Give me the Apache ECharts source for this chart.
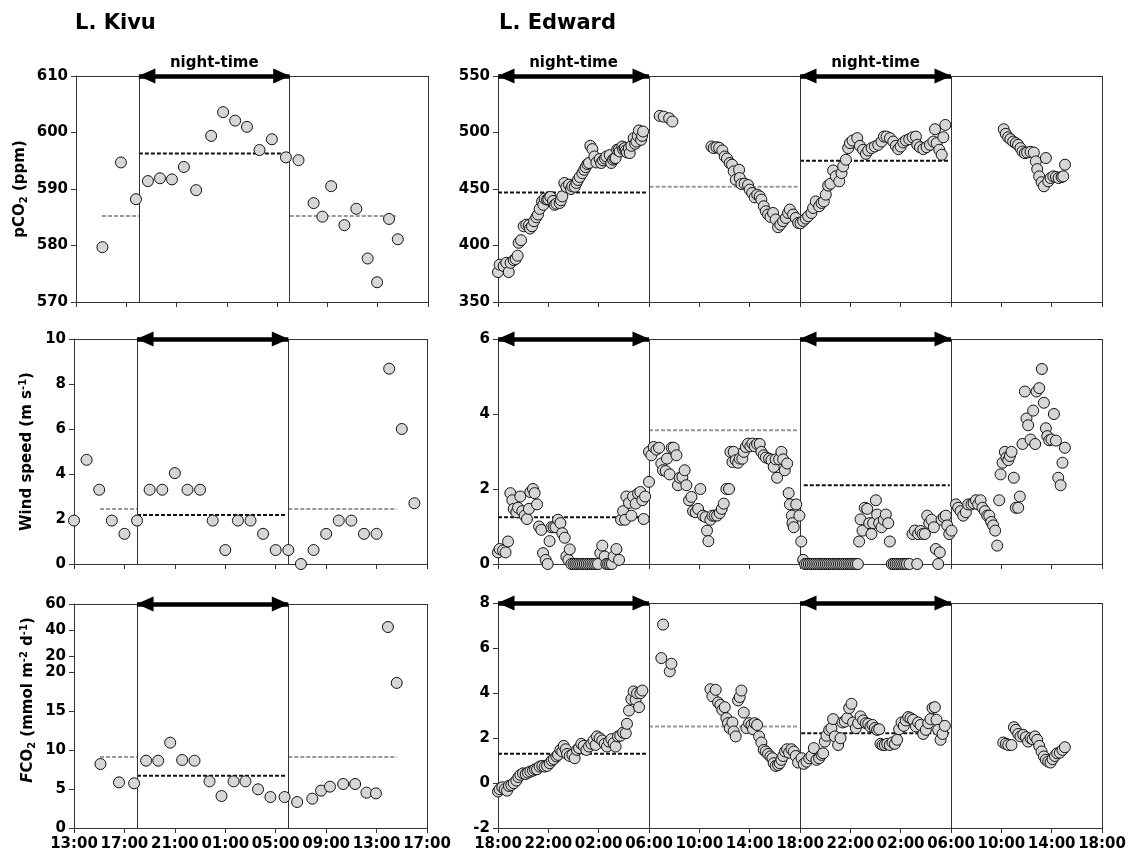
<!DOCTYPE html>
<html>
<head>
<meta charset="utf-8">
<script src="https://cdn.jsdelivr.net/npm/echarts@6.0.0/dist/echarts.min.js"></script>
<style>
html, body { margin: 0; padding: 0; background: #fff; }
#container { width: 1133px; height: 863px; }
</style>
</head>
<body>
<div id="container"></div>
<script>
var dom = document.getElementById("container");
var myChart = echarts.init(dom);
var FONT = 'DejaVu Sans';

// x = hours after first tick (Kivu starts 13:00, Edward starts 18:00)
var kivuStart = 13;
var edwardStart = 18;
var kivuNights = [[5, 17]];
var edwardNights = [[0, 12], [24, 36]];

// L. Kivu
var kivuHours = [2.1, 3.57, 4.77, 5.72, 6.68, 7.63, 8.58, 9.56, 10.75, 11.7, 12.66, 13.6, 14.6,
    15.58, 16.7, 17.7, 18.9, 19.6, 20.3, 21.35, 22.3, 23.2, 23.95, 24.9, 25.6];
var kivuPco2 = [579.7, 594.7, 588.2, 591.4, 591.9, 591.7, 593.9, 589.8, 599.4, 603.6, 602.1, 601.0, 596.9,
    598.8, 595.6, 595.1, 587.5, 585.1, 590.5, 583.6, 586.5, 577.7, 573.5, 584.7, 581.1];
var kivuFco2 = [8.2, 5.85, 5.73, 8.63, 8.63, 10.94, 8.72, 8.63, 5.98, 4.1, 5.98, 5.98, 4.96,
    3.97, 3.97, 3.33, 3.76, 4.79, 5.3, 5.64, 5.64, 4.53, 4.44, 42.3, 18.6];
var kivuWindHours = [0, 1, 2, 3, 4, 5, 6, 7, 8, 9, 10, 11, 12, 13, 14, 15, 16, 17, 18, 19, 20, 21, 22, 23, 24, 25, 26, 27];
var kivuWind = [1.93, 4.63, 3.3, 1.93, 1.34, 1.93, 3.3, 3.3, 4.04, 3.3, 3.3, 1.93, 0.62, 1.93,
    1.93, 1.34, 0.62, 0.62, 0, 0.62, 1.34, 1.93, 1.93, 1.34, 1.34, 8.68, 6.0, 2.7];

// mean lines: [from, to, value, period]
var kivuPco2Means = [[2.07, 5, 585.2, 'day'], [5, 16.9, 596.3, 'night'], [17, 25.6, 585.2, 'day']];
var kivuWindMeans = [[2.07, 5, 2.45, 'day'], [5, 16.9, 2.18, 'night'], [17, 25.6, 2.45, 'day']];
var kivuFco2Means = [[2.07, 5, 9.1, 'day'], [5, 16.9, 6.7, 'night'], [17, 25.6, 9.1, 'day']];

// L. Edward  [hour, value]
var edwardPco2 = [
    [0, 376.5], [0.13, 383], [0.45, 381.8], [0.66, 384.7], [0.85, 376.5], [1.0, 384.7], [1.25, 387], [1.4, 388],
    [1.56, 391], [1.64, 402.4], [1.83, 404.7], [2.04, 417], [2.25, 418.5], [2.46, 418], [2.55, 415], [2.7, 417],
    [2.86, 421.5], [3.05, 425], [3.18, 427.4], [3.31, 432.4], [3.5, 439], [3.6, 436], [3.71, 441.5], [3.9, 440.6],
    [4.0, 441], [4.16, 443], [4.37, 439.4], [4.5, 436], [4.64, 437], [4.9, 437.6], [5.0, 440], [5.11, 443.5],
    [5.27, 455.3], [5.43, 451.8], [5.64, 453.8], [5.8, 450], [5.9, 452.4], [6.1, 452], [6.23, 455.3], [6.35, 458],
    [6.49, 460.6], [6.7, 464], [6.85, 467], [6.97, 469.4], [7.1, 472], [7.23, 473], [7.34, 488.2], [7.5, 485.3],
    [7.66, 478.8], [7.82, 473.5], [8.08, 476.5], [8.2, 473], [8.35, 475.3], [8.5, 477], [8.61, 478.8], [8.88, 480],
    [9.0, 473], [9.14, 475.9], [9.25, 477], [9.35, 477.4], [9.46, 484.7], [9.6, 485], [9.67, 483.2], [9.88, 487.6],
    [9.95, 485], [10.07, 486.2], [10.15, 484], [10.25, 482.4], [10.4, 486], [10.47, 481.8], [10.6, 488.2],
    [10.78, 495], [10.9, 490], [11.0, 492], [11.1, 497], [11.2, 501.8], [11.37, 493.5], [11.45, 497], [11.53, 500.9],
    [12.85, 514.7], [13.17, 514], [13.6, 512.6], [13.86, 509.7],
    [16.96, 487.6], [17.14, 486.2], [17.36, 487], [17.57, 486.5], [17.83, 484.1], [18.02, 478.8], [18.2, 477],
    [18.42, 473], [18.6, 471.5], [18.73, 465.6], [18.89, 458.2], [19.16, 467], [19.21, 459.7], [19.34, 454.4],
    [19.6, 454.7], [19.87, 453.5], [20.0, 449.4], [20.2, 446.5], [20.4, 442.6], [20.6, 445], [20.8, 443.5],
    [20.93, 440.6], [21.12, 434.7], [21.28, 430.3], [21.46, 427.4], [21.65, 425.3], [21.86, 428.8], [22.07, 423],
    [22.26, 416.2], [22.44, 418.5], [22.65, 421.5], [22.87, 424.4], [23.05, 428.8], [23.19, 431.8], [23.45, 427.4],
    [23.66, 424.4], [23.85, 420],
    [24.04, 419.7], [24.25, 421.7], [24.46, 423.8], [24.65, 425.9], [24.91, 428.8], [25.04, 433.2], [25.25, 439],
    [25.52, 434.7], [25.71, 437.6], [25.89, 439], [26.05, 445], [26.24, 453], [26.42, 454.7], [26.63, 466.4],
    [26.85, 461.2], [27.12, 456.8], [27.3, 464.1], [27.43, 470], [27.65, 475.9], [27.83, 486.2], [27.97, 490.6],
    [28.18, 492.9], [28.55, 495], [28.76, 488.2], [29.02, 484.7], [29.24, 481.1], [29.42, 484.1], [29.69, 486.2],
    [29.95, 487.6], [30.22, 489.1], [30.48, 492], [30.67, 496.4], [30.88, 496.4], [31.15, 495], [31.41, 492],
    [31.62, 488.2], [31.81, 485.3], [32.0, 487.6], [32.21, 491.2], [32.42, 492.9], [32.68, 494.1], [32.95, 495.8],
    [33.21, 496.4], [33.32, 489.1], [33.53, 487], [33.8, 485.3], [34.06, 487], [34.33, 489.1], [34.6, 492],
    [34.73, 502.9], [34.86, 490.6], [35.07, 484.7], [35.26, 480.3], [35.39, 495.8], [35.55, 506.7],
    [40.19, 502.9], [40.35, 498.8], [40.54, 495.8], [40.72, 494.1], [40.94, 492], [41.15, 490.6], [41.33, 489.1],
    [41.52, 486.2], [41.68, 483.2], [41.87, 481.7], [42.05, 482.3], [42.32, 482.9], [42.58, 482.3], [42.74, 474.4],
    [42.85, 467.6], [43.01, 461.2], [43.2, 456], [43.38, 452.4], [43.54, 477.4], [43.73, 456.8], [43.91, 459.7],
    [44.13, 461.2], [44.34, 460.6], [44.55, 459.7], [44.79, 460.6], [44.92, 461.2], [45.06, 471.5]
];

var edwardWind = [
    [0, 0.31], [0.13, 0.4], [0.4, 0.36], [0.6, 0.31], [0.8, 0.6], [0.98, 1.89], [1.14, 1.7], [1.25, 1.47],
    [1.46, 1.38], [1.59, 1.5], [1.77, 1.8], [1.93, 1.41], [2.12, 1.29], [2.3, 1.2], [2.46, 1.47], [2.57, 1.92],
    [2.78, 2.0], [2.91, 1.89], [3.1, 1.59], [3.26, 1.0], [3.44, 0.91], [3.58, 0.29], [3.79, 0.11], [3.95, 0],
    [4.1, 0.61], [4.24, 0.98], [4.42, 0.98], [4.58, 0.98], [4.77, 1.18], [4.96, 1.09], [5.11, 0.82], [5.3, 0.7],
    [5.43, 0.2], [5.59, 0.11], [5.7, 0.39], [5.83, 0], [6.0, 0], [6.15, 0], [6.3, 0], [6.45, 0], [6.6, 0],
    [6.75, 0], [6.9, 0], [7.05, 0], [7.2, 0], [7.35, 0], [7.5, 0], [7.65, 0], [7.8, 0], [7.95, 0],
    [8.13, 0.29], [8.29, 0.49], [8.48, 0.2], [8.61, 0], [8.75, 0], [8.9, 0], [9.05, 0], [9.19, 0.2],
    [9.41, 0.4], [9.62, 0.11], [9.78, 1.18], [9.94, 1.41], [10.1, 1.18], [10.2, 1.8], [10.41, 1.63],
    [10.6, 1.29], [10.73, 1.8], [10.94, 1.61], [11.13, 1.88], [11.31, 1.92], [11.47, 1.7], [11.58, 1.2],
    [11.69, 1.8], [12.0, 2.19],
    [12.0, 2.99], [12.19, 2.9], [12.37, 3.12], [12.59, 3.05], [12.8, 3.1], [12.98, 2.68], [13.11, 2.5],
    [13.33, 2.48], [13.43, 2.81], [13.64, 2.39], [13.8, 3.1], [13.96, 3.1], [14.18, 2.9], [14.3, 2.1],
    [14.44, 2.3], [14.65, 2.32], [14.83, 2.5], [14.97, 2.1], [15.18, 1.7], [15.37, 1.79], [15.5, 1.41],
    [15.71, 1.38], [15.9, 1.47], [16.08, 2.0], [16.29, 1.29], [16.5, 1.25], [16.61, 0.89], [16.72, 0.61],
    [16.88, 1.18], [17.04, 1.29], [17.22, 1.29], [17.41, 1.29], [17.62, 1.36], [17.78, 1.47], [17.94, 1.61],
    [18.15, 2.0], [18.36, 2.0], [18.47, 2.99], [18.63, 2.72], [18.73, 2.99], [18.89, 2.77], [19.08, 2.7],
    [19.21, 2.81], [19.42, 2.81], [19.53, 2.99], [19.69, 3.12], [19.87, 3.21], [20.06, 3.14], [20.22, 3.21],
    [20.4, 3.14], [20.59, 3.2], [20.8, 3.2], [20.93, 2.99], [21.12, 2.9], [21.28, 2.84], [21.54, 2.81],
    [21.73, 2.77], [21.91, 2.59], [22.07, 2.79], [22.18, 2.3], [22.34, 2.79], [22.52, 2.99], [22.66, 2.79],
    [22.79, 2.5], [22.98, 2.68], [23.1, 1.89], [23.2, 1.59], [23.35, 1.29], [23.4, 1.09], [23.5, 0.98],
    [23.7, 1.59], [23.95, 1.29],
    [24.1, 0.6], [24.25, 0.11], [24.4, 0], [24.55, 0], [24.7, 0], [24.85, 0], [25.0, 0], [25.15, 0], [25.3, 0],
    [25.45, 0], [25.6, 0], [25.75, 0], [25.9, 0], [26.05, 0], [26.2, 0], [26.35, 0], [26.5, 0], [26.65, 0],
    [26.8, 0], [26.95, 0], [27.1, 0], [27.25, 0], [27.4, 0], [27.55, 0], [27.7, 0], [27.85, 0], [28.0, 0],
    [28.15, 0], [28.3, 0], [28.45, 0], [28.6, 0],
    [28.7, 0.6], [28.81, 1.19], [28.97, 0.89], [29.15, 1.5], [29.34, 1.47], [29.5, 1.09], [29.68, 0.8],
    [29.81, 1.09], [30.03, 1.7], [30.13, 1.32], [30.29, 1.09], [30.48, 0.98], [30.66, 1.18], [30.82, 1.32],
    [31.01, 1.09], [31.14, 0.6], [31.3, 0], [31.45, 0], [31.6, 0], [31.75, 0], [31.9, 0], [32.05, 0], [32.2, 0],
    [32.35, 0], [32.5, 0], [32.7, 0], [32.94, 0.8], [33.13, 0.89], [33.31, 0], [33.39, 0.8], [33.58, 0.88],
    [33.74, 0.8], [33.92, 0.8], [34.11, 1.29], [34.27, 1.09], [34.45, 1.18], [34.64, 0.98], [34.8, 0.4],
    [34.98, 0], [35.11, 0.31], [35.25, 1.18], [35.43, 1.25], [35.59, 1.29], [35.7, 1.03], [35.86, 0.8],
    [36.04, 0.89],
    [36.39, 1.59], [36.57, 1.5], [36.76, 1.41], [36.97, 1.29], [37.18, 1.38], [37.37, 1.59], [37.63, 1.59],
    [37.8, 1.62], [37.98, 1.7], [38.16, 1.59], [38.35, 1.7], [38.5, 1.5], [38.69, 1.41], [38.88, 1.29],
    [39.04, 1.29], [39.2, 1.12], [39.35, 1.03], [39.51, 0.89], [39.67, 0.49], [39.83, 1.7], [39.94, 2.39],
    [40.1, 2.7], [40.28, 2.99], [40.41, 2.84], [40.55, 2.77], [40.68, 2.88], [40.81, 2.99], [40.99, 2.3],
    [41.15, 1.5], [41.34, 1.5], [41.47, 1.8], [41.68, 3.2], [41.87, 4.6], [42.0, 3.88], [42.13, 3.7],
    [42.32, 3.32], [42.53, 4.09], [42.69, 3.2], [42.8, 4.6], [43.01, 4.69], [43.22, 5.2], [43.38, 4.3],
    [43.54, 3.62], [43.65, 3.41], [43.81, 3.3], [43.99, 3.32], [44.18, 4.0], [44.34, 3.29], [44.52, 2.3],
    [44.71, 2.1], [44.86, 2.7], [45.05, 3.1]
];

var edwardFco2 = [
    [0, -0.38], [0.13, -0.28], [0.34, -0.19], [0.53, -0.28], [0.72, -0.34], [0.87, -0.13], [1.06, -0.09],
    [1.25, -0.01], [1.46, 0.11], [1.62, 0.26], [1.78, 0.36], [1.99, 0.43], [2.2, 0.4], [2.38, 0.46],
    [2.57, 0.51], [2.78, 0.55], [2.94, 0.61], [3.1, 0.61], [3.31, 0.73], [3.52, 0.76], [3.71, 0.73],
    [3.9, 0.76], [4.11, 0.88], [4.27, 1.0], [4.43, 1.06], [4.64, 1.18], [4.77, 1.25], [4.96, 1.47],
    [5.11, 1.4], [5.22, 1.65], [5.38, 1.5], [5.49, 1.29], [5.7, 1.2], [5.91, 1.25], [6.09, 1.1], [6.28, 1.47],
    [6.44, 1.55], [6.62, 1.74], [6.81, 1.65], [7.02, 1.47], [7.23, 1.62], [7.42, 1.74], [7.6, 1.89],
    [7.76, 1.69], [7.87, 2.07], [8.08, 1.99], [8.29, 1.89], [8.48, 1.74], [8.66, 1.62], [8.82, 1.84],
    [9.01, 1.95], [9.19, 1.77], [9.35, 1.62], [9.54, 2.07], [9.72, 2.1], [9.94, 2.24], [10.15, 2.21],
    [10.25, 2.63], [10.41, 3.22], [10.6, 3.73], [10.78, 4.07], [10.94, 3.7], [11.05, 3.99], [11.21, 3.37],
    [11.31, 3.99], [11.47, 4.11],
    [12.98, 5.55], [13.12, 7.04], [13.65, 4.96], [13.78, 5.3],
    [16.88, 4.17], [17.04, 3.85], [17.3, 4.14], [17.49, 3.58], [17.67, 3.47], [17.83, 3.25], [18.02, 3.37],
    [18.15, 2.88], [18.28, 2.66], [18.42, 2.44], [18.63, 2.69], [18.73, 2.29], [18.89, 2.07], [19.08, 3.67],
    [19.21, 3.82], [19.34, 4.11], [19.53, 3.13], [19.74, 2.44], [19.95, 2.66], [20.14, 2.58], [20.27, 2.39],
    [20.4, 2.66], [20.59, 2.58], [20.75, 2.07], [20.93, 1.8], [21.12, 1.47], [21.28, 1.4], [21.46, 1.29],
    [21.65, 1.18], [21.81, 1.1], [21.91, 0.88], [22.07, 0.76], [22.26, 0.8], [22.39, 0.88], [22.52, 1.03],
    [22.66, 1.2], [22.81, 1.4], [22.97, 1.5], [23.13, 1.35], [23.32, 1.5], [23.5, 1.4], [23.66, 1.2],
    [23.85, 0.91],
    [24.12, 1.1], [24.3, 0.85], [24.52, 0.95], [24.73, 1.1], [24.91, 1.2], [25.1, 1.55], [25.31, 1.03],
    [25.52, 1.1], [25.71, 1.25], [25.84, 1.32], [25.97, 1.84], [26.1, 2.1], [26.32, 2.36], [26.5, 2.44],
    [26.63, 2.84], [26.77, 2.07], [27.03, 1.69], [27.22, 1.99], [27.38, 2.69], [27.56, 2.73], [27.75, 2.88],
    [27.91, 3.33], [28.09, 3.52], [28.22, 2.69], [28.44, 2.44], [28.62, 2.66], [28.81, 2.96], [29.02, 2.78],
    [29.23, 2.66], [29.42, 2.63], [29.6, 2.51], [29.76, 2.58], [29.95, 2.44], [30.13, 2.36], [30.29, 2.39],
    [30.4, 1.74], [30.56, 1.69], [30.74, 1.69], [30.93, 1.74], [31.14, 1.69], [31.35, 1.8], [31.54, 1.74],
    [31.72, 1.92], [31.88, 2.39], [32.07, 2.69], [32.25, 2.54], [32.41, 2.78], [32.6, 2.93], [32.78, 2.88],
    [32.99, 2.81], [33.21, 2.51], [33.39, 2.69], [33.58, 2.58], [33.79, 2.18], [34.0, 2.36], [34.19, 2.66],
    [34.37, 2.84], [34.53, 3.33], [34.72, 3.37], [34.85, 2.81], [34.98, 2.36], [35.17, 1.92], [35.33, 2.18],
    [35.51, 2.54],
    [40.15, 1.8], [40.36, 1.74], [40.55, 1.69], [40.81, 1.69], [41.0, 2.48], [41.15, 2.36], [41.34, 2.18],
    [41.52, 2.07], [41.74, 2.14], [41.95, 2.04], [42.13, 1.84], [42.32, 1.99], [42.48, 1.95], [42.67, 2.07],
    [42.85, 1.92], [43.01, 1.65], [43.2, 1.4], [43.38, 1.18], [43.54, 1.03], [43.73, 0.95], [43.91, 0.91],
    [44.07, 1.06], [44.26, 1.2], [44.44, 1.32], [44.65, 1.35], [44.86, 1.47], [45.05, 1.59]
];

var edwardPco2Means = [[0, 11.85, 447, 'night'], [12.05, 23.85, 452, 'day'], [24, 35.9, 475, 'night']];
var edwardWindMeans = [[0, 11.9, 1.25, 'night'], [12, 23.85, 3.57, 'day'], [24.3, 35.9, 2.1, 'night']];
var edwardFco2Means = [[0, 11.8, 1.3, 'night'], [12, 23.85, 2.51, 'day'], [24.1, 35.9, 2.21, 'night']];

var nameRich = {
    sub: { fontFamily: FONT, fontWeight: 'bold', fontSize: 10, lineHeight: 10, verticalAlign: 'bottom' },
    sup: { fontFamily: FONT, fontWeight: 'bold', fontSize: 10, lineHeight: 10, verticalAlign: 'top' },
    it: { fontFamily: FONT, fontWeight: 'bold', fontStyle: 'italic', fontSize: 15, lineHeight: 18 }
};

function zip(xs, ys) {
    return xs.map(function (x, i) { return [x, ys[i]]; });
}

function hourLabel(start) {
    return function (v) {
        var h = (start + v) % 24;
        return (h < 10 ? '0' : '') + h + ':00';
    };
}

function xAx(idx, max, start, labels, hidden) {
    return {
        gridIndex: idx, type: 'value', min: 0, max: max, interval: 4, show: !hidden,
        axisLine: { show: true, onZero: false, lineStyle: { color: '#333', width: 1 } },
        axisTick: { show: true, length: 5, lineStyle: { color: '#333' } },
        axisLabel: { show: labels, margin: 9, formatter: hourLabel(start), fontFamily: FONT, fontWeight: 'bold', fontSize: 15, color: '#000' },
        splitLine: { show: false }
    };
}

function yAx(idx, min, max, interval, name, gap) {
    var a = {
        gridIndex: idx, type: 'value', min: min, max: max, interval: interval,
        axisLine: { show: true, onZero: false, lineStyle: { color: '#333', width: 1 } },
        axisTick: { show: true, length: 5, lineStyle: { color: '#333' } },
        axisLabel: { margin: 8, fontFamily: FONT, fontWeight: 'bold', fontSize: 15, color: '#000' },
        splitLine: { show: false }
    };
    if (name) {
        a.name = name;
        a.nameLocation = 'middle';
        a.nameGap = gap;
        a.nameTextStyle = { fontFamily: FONT, fontWeight: 'bold', fontSize: 15, lineHeight: 18, color: '#000', rich: nameRich };
    }
    return a;
}

function scatter(idx, data) {
    return {
        type: 'scatter', xAxisIndex: idx, yAxisIndex: idx, data: data, silent: true, z: 5,
        symbol: 'circle', symbolSize: 11,
        itemStyle: { color: '#d6d6d6', borderColor: '#111', borderWidth: 1, opacity: 1 }
    };
}

function means(idx, segs) {
    return segs.map(function (s) {
        return {
            type: 'line', xAxisIndex: idx, yAxisIndex: idx, z: 3, silent: true, symbol: 'none',
            data: [[s[0], s[2]], [s[1], s[2]]],
            lineStyle: { color: s[3] === 'night' ? '#111' : '#999', width: 2, type: [4, 2] }
        };
    });
}

// box edges, night boundaries and arrows as markLines
function frame(idx, yMin, yMax, xMax, nights, o) {
    var lines = [];
    if (o.top) lines.push([{ coord: [0, yMax] }, { coord: [xMax, yMax] }]);
    lines.push([{ coord: [xMax, yMin] }, { coord: [xMax, yMax] }]);
    nights.forEach(function (n) {
        n.forEach(function (b) {
            if (b > 0 && b < xMax) lines.push([{ coord: [b, yMin] }, { coord: [b, yMax] }]);
        });
        if (o.arrows) {
            lines.push([
                {
                    coord: [n[0], yMax], symbol: 'triangle', symbolSize: [15, 17], symbolOffset: [0, 8],
                    lineStyle: { width: 4.5, color: '#000', type: 'solid' },
                    label: {
                        show: !!o.label, formatter: 'night-time', position: 'insideMiddleTop', distance: 5,
                        fontFamily: FONT, fontWeight: 'bold', fontSize: 15, color: '#000'
                    }
                },
                { coord: [n[1], yMax], symbol: 'triangle', symbolSize: [15, 17], symbolOffset: [0, 8] }
            ]);
        }
    });
    return {
        type: 'line', xAxisIndex: idx, yAxisIndex: idx, data: [], clip: false, z: 6, silent: true,
        markLine: {
            silent: true, animation: false, symbol: ['none', 'none'],
            lineStyle: { color: '#333', width: 1, type: 'solid' },
            label: { show: false },
            data: lines
        }
    };
}

var kivuFco2Pts = zip(kivuHours, kivuFco2);
var kivuFco2High = kivuFco2Pts.filter(function (p) { return p[1] > 20; });
var kivuFco2Low = kivuFco2Pts.filter(function (p) { return p[1] <= 20; });

var upperY = yAx(4, 7.7, 60, null, null);
upperY.axisTick.customValues = [20, 40, 60];
upperY.axisLabel.customValues = [20, 40, 60];

option = {
    animation: false,
    backgroundColor: '#fff',
    title: [
        { text: 'L. Kivu', left: 75, top: 13, padding: 0, textStyle: { fontFamily: FONT, fontWeight: 'bold', fontSize: 21, color: '#000' } },
        { text: 'L. Edward', left: 499, top: 13, padding: 0, textStyle: { fontFamily: FONT, fontWeight: 'bold', fontSize: 21, color: '#000' } }
    ],
    grid: [
        { left: 76, top: 76, width: 352, height: 226 },
        { left: 498, top: 76, width: 604, height: 226 },
        { left: 74, top: 339, width: 353, height: 225 },
        { left: 498, top: 339, width: 604, height: 225 },
        { left: 74, top: 604, width: 353, height: 68 },
        { left: 74, top: 672, width: 353, height: 156 },
        { left: 498, top: 603, width: 604, height: 225 }
    ],
    xAxis: [
        xAx(0, 28, kivuStart, false),
        xAx(1, 48, edwardStart, false),
        xAx(2, 28, kivuStart, false),
        xAx(3, 48, edwardStart, false),
        xAx(4, 28, kivuStart, false, true),
        xAx(5, 28, kivuStart, true),
        xAx(6, 48, edwardStart, true)
    ],
    yAxis: [
        yAx(0, 570, 610, 10, 'pCO{sub|2} (ppm)', 47),
        yAx(1, 350, 550, 50),
        yAx(2, 0, 10, 2, 'Wind speed (m s{sup|-1})', 38),
        yAx(3, 0, 6, 2),
        upperY,
        yAx(5, 0, 20, 5),
        yAx(6, -2, 8, 2)
    ],
    graphic: [{
        type: 'text', x: 28, y: 700, rotation: Math.PI / 2, silent: true,
        style: {
            text: '{it|F}CO{sub|2} (mmol m{sup|-2} d{sup|-1})',
            fontFamily: FONT, fontWeight: 'bold', fontSize: 15, lineHeight: 18, fill: '#000',
            align: 'center', verticalAlign: 'middle', rich: nameRich
        }
    }],
    series: [].concat(
        [scatter(0, zip(kivuHours, kivuPco2))], means(0, kivuPco2Means),
        [frame(0, 570, 610, 28, kivuNights, { top: true, arrows: true, label: true })],
        [scatter(1, edwardPco2)], means(1, edwardPco2Means),
        [frame(1, 350, 550, 48, edwardNights, { top: true, arrows: true, label: true })],
        [scatter(2, zip(kivuWindHours, kivuWind))], means(2, kivuWindMeans),
        [frame(2, 0, 10, 28, kivuNights, { top: true, arrows: true })],
        [scatter(3, edwardWind)], means(3, edwardWindMeans),
        [frame(3, 0, 6, 48, edwardNights, { top: true, arrows: true })],
        [scatter(4, kivuFco2High)],
        [frame(4, 7.7, 60, 28, kivuNights, { top: true, arrows: true })],
        [scatter(5, kivuFco2Low)], means(5, kivuFco2Means),
        [frame(5, 0, 20, 28, kivuNights, { top: false, arrows: false })],
        [scatter(6, edwardFco2)], means(6, edwardFco2Means),
        [frame(6, -2, 8, 48, edwardNights, { top: true, arrows: true })]
    )
};

if (option && typeof option === "object") {
    myChart.setOption(option, true);
}
</script>
</body>
</html>
